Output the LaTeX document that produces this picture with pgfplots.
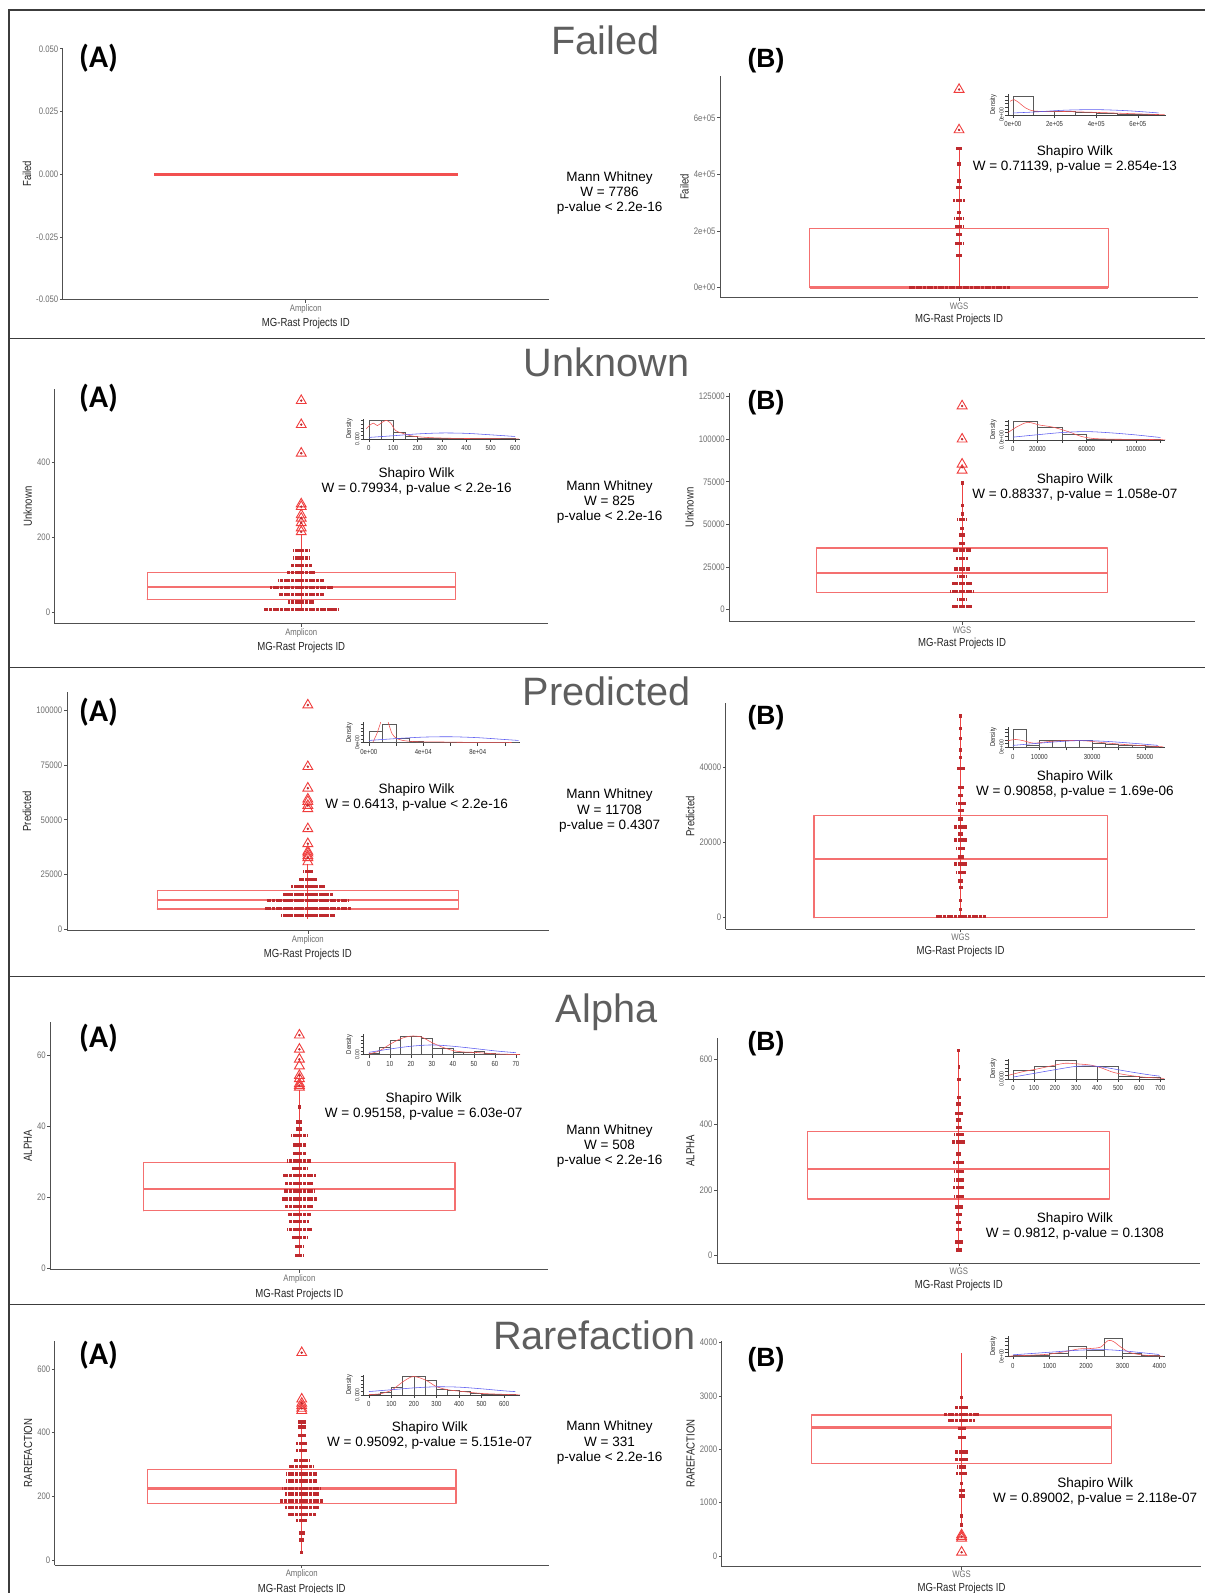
\documentclass[border=0pt]{standalone}
\usepackage{fontspec}
\setmainfont{Liberation Sans}
\newfontfamily\narrowfont[FakeStretch=0.82]{Liberation Sans}
\newfontfamily\calfont{Carlito}
\usepackage{pgfplots}
\pgfplotsset{compat=1.18}

\definecolor{boxred}{HTML}{F47070}
\definecolor{whiskred}{HTML}{EE4444}
\definecolor{dotred}{HTML}{BE2A2E}
\definecolor{outred}{HTML}{F03C3C}
\definecolor{axisgray}{HTML}{505050}
\definecolor{tickgray}{HTML}{6E6E6E}
\definecolor{titlegray}{HTML}{5E5E5E}
\definecolor{framegray}{HTML}{3C3C3C}
\definecolor{densred}{HTML}{F05050}
\definecolor{densblue}{HTML}{5A5AF0}

\newcommand\tickfont{\narrowfont\fontsize{9.3}{10}\selectfont}
\newcommand\labfont{\narrowfont\fontsize{11.5}{13}\selectfont}
\newcommand\insetfont{\narrowfont\fontsize{7.2}{8}\selectfont}
\newcommand\insetyfont{\narrowfont\fontsize{6}{7}\selectfont}
\newcommand\denfont{\narrowfont\fontsize{7}{8}\selectfont}
\newcommand\statfont{\fontsize{13.3}{15}\selectfont}
\newcommand\titlefont{\fontsize{39}{42}\selectfont}
\newcommand\pafont{\calfont\bfseries\fontsize{31}{33}\selectfont}
\newcommand\pbfont{\bfseries\fontsize{26}{28}\selectfont}

\pgfplotsset{
  mainax/.style={scale only axis, anchor=south west, clip=false, scaled ticks=false,
    axis x line=bottom, axis y line=left,
    axis line style={-, draw=axisgray, line width=1pt},
    xmin=0.4, xmax=1.6, xtick={1},
    tick align=outside, major tick length=3pt,
    tick style={draw=axisgray, line width=0.6pt},
    tick label style={font=\tickfont, text=tickgray, inner sep=1.5pt},
    label style={font=\labfont, text=black!85},
    xlabel={MG-Rast Projects ID}},
  inset/.style={scale only axis, anchor=south west, clip=true, scaled ticks=false,
    height=20pt, ymin=0, ymax=1.1,
    axis x line=bottom, axis y line=left,
    axis line style={-, draw=black!75, line width=0.5pt},
    tick align=outside, major tick length=3pt,
    tick style={draw=black!75, line width=0.45pt},
    xticklabel style={font=\insetfont, text=black!80, inner sep=1pt, yshift=-2.5pt},
    ytick={0,0.2,0.4,0.6,0.8,1.0},
    yticklabel style={font=\insetyfont, text=black!80, rotate=90, anchor=south, inner sep=1pt},
    ylabel={Density}, ylabel style={font=\denfont, text=black!85}, ylabel shift=-2pt},
  boxline/.style={draw=boxred, line width=1.2pt, line join=round, line cap=round, mark=none},
  medline/.style={draw=boxred, line width=2.2pt, mark=none},
  whisk/.style={draw=whiskred, line width=0.9pt, mark=none},
  outl/.style={only marks, mark=triangle, mark size=5.6pt, mark options={draw=outred, fill=none, line width=0.9pt}},
  outdot/.style={only marks, mark=*, mark size=1pt, mark options={draw=dotred, fill=dotred}},
  dotrow/.style={draw=none, mark=none, error bars/.cd, x dir=both, x explicit, error mark=none,
    error bar style={draw=dotred, line width=3.3pt, dash pattern=on 3pt off 0.6pt}},
  hist/.style={ybar interval, draw=black!65, fill=none, line width=0.5pt},
  dred/.style={smooth, draw=densred, line width=0.55pt, mark=none},
  dblue/.style={smooth, draw=densblue, line width=0.55pt, mark=none}
}

\begin{document}
\begin{tikzpicture}
\useasboundingbox (0pt,0pt) rectangle (1186pt,-1568pt);

% frame and row separators
\draw[framegray, line width=1.3pt] (9pt,-1568pt) -- (9pt,-10pt) -- (1186pt,-10pt);
\draw[framegray, line width=1.3pt] (9pt,-333pt) -- (1186pt,-333pt);
\draw[framegray, line width=1.3pt] (9pt,-657pt) -- (1186pt,-657pt);
\draw[framegray, line width=1.3pt] (9pt,-961pt) -- (1186pt,-961pt);
\draw[framegray, line width=1.3pt] (9pt,-1284pt) -- (1186pt,-1284pt);

% ================= Failed =================
\node[anchor=base, text=titlegray, font=\titlefont] at (596pt,-54pt) {Failed};
\node[font=\statfont, align=center] at (600pt,-190pt) {Mann Whitney\\W = 7786\\p-value < 2.2e-16};

\begin{axis}[mainax, at={(62pt,-295pt)}, width=478pt, height=248pt,
  ymin=-0.05, ymax=0.0504, ytick={-0.05,-0.025,0,0.025,0.05},
  yticklabels={-0.050,-0.025,0.000,0.025,0.050}, xticklabels={Amplicon}, ylabel={Failed}]
\addplot[medline, line width=2.6pt, draw=outred!90] coordinates {(0.625,0) (1.375,0)};
\end{axis}

\begin{axis}[mainax, at={(709pt,-293pt)}, width=470pt, height=218pt,
  ymin=-36000, ymax=747000, ytick={0,200000,400000,600000},
  yticklabels={0e+00,2e+05,4e+05,6e+05}, xticklabels={WGS}, ylabel={Failed}]
\addplot[boxline] coordinates {(0.625,0) (1.375,0) (1.375,208000) (0.625,208000) (0.625,0)};
\addplot[medline] coordinates {(0.625,0) (1.375,0)};
\addplot[whisk] coordinates {(1,0) (1,491000)};
\addplot[dotrow] coordinates {(1,0) +- (0.127,0) (1,114000) +- (0.008,0) (1,155000) +- (0.010,0)
  (1,188000) +- (0.008,0) (1,215000) +- (0.010,0) (1,243000) +- (0.012,0) (1,266000) +- (0.004,0)
  (1,307000) +- (0.016,0) (1,354000) +- (0.008,0) (1,376000) +- (0.004,0) (1,436000) +- (0.006,0)
  (1,491000) +- (0.008,0)};
\addplot[outl] coordinates {(1,557000) (1,700000)};
\addplot[outdot] coordinates {(1,557000) (1,700000)};
\end{axis}

\begin{axis}[inset, at={(992pt,-113pt)}, width=156pt, xmin=-24390, xmax=736585,
  xtick={0,200000,400000,600000}, xticklabels={0e+00,2e+05,4e+05,6e+05}, yticklabels={0e+00,,,,,}]
\addplot[hist] coordinates {(0,1.0) (100000,0.2) (200000,0.2) (300000,0.16) (400000,0.09) (500000,0.05) (600000,0.04) (700000,0)};
\addplot[dred] coordinates {(-13000,0.73) (5000,0.82) (30000,0.65) (60000,0.38) (106000,0.2) (240000,0.18) (400000,0.13) (600000,0.05) (730000,0)};
\addplot[dblue] coordinates {(0,0.1) (100000,0.15) (250000,0.25) (400000,0.28) (550000,0.22) (700000,0.1)};
\end{axis}
\node[font=\statfont, align=center] at (1058pt,-157pt) {Shapiro Wilk\\W = 0.71139, p-value = 2.854e-13};
\node[font=\pafont] at (97pt,-57pt) {(A)};
\node[font=\pbfont] at (754pt,-60pt) {(B)};

% ================= Unknown =================
\node[anchor=base, text=titlegray, font=\titlefont] at (597pt,-371pt) {Unknown};
\node[font=\statfont, align=center] at (600pt,-494pt) {Mann Whitney\\W = 825\\p-value < 2.2e-16};

\begin{axis}[mainax, at={(54pt,-614pt)}, width=485pt, height=231pt,
  ymin=-29.7, ymax=594.6, ytick={0,200,400}, yticklabels={0,200,400},
  xticklabels={Amplicon}, ylabel={Unknown}]
\addplot[boxline] coordinates {(0.625,35) (1.375,35) (1.375,106) (0.625,106) (0.625,35)};
\addplot[medline] coordinates {(0.625,68) (1.375,68)};
\addplot[whisk] coordinates {(1,8) (1,210)};
\addplot[dotrow] coordinates {(1,8) +- (0.091,0) (1,28) +- (0.032,0) (1,48) +- (0.054,0)
  (1,67) +- (0.077,0) (1,86) +- (0.056,0) (1,107) +- (0.035,0) (1,125) +- (0.026,0)
  (1,145) +- (0.019,0) (1,165) +- (0.019,0)};
\addplot[outl] coordinates {(1,215) (1,225) (1,239) (1,251) (1,260) (1,282) (1,289) (1,424) (1,500) (1,564)};
\addplot[outdot] coordinates {(1,215) (1,239) (1,251) (1,282) (1,424) (1,500) (1,564)};
\end{axis}

\begin{axis}[inset, at={(358pt,-432pt)}, width=154pt, xmin=-20.8, xmax=620.8,
  xtick={0,100,200,300,400,500,600}, xticklabels={0,100,200,300,400,500,600}, yticklabels={0.000,,,,,}]
\addplot[hist] coordinates {(0,1.0) (50,1.0) (100,0.36) (150,0.15) (200,0.05) (250,0.03) (300,0.02) (350,0.01) (400,0.01) (450,0.01) (500,0.01) (550,0.01) (600,0)};
\addplot[dred] coordinates {(-10,0.55) (5,0.75) (20,0.85) (35,0.72) (55,0.9) (72,1.0) (90,0.85) (110,0.45) (140,0.3) (180,0.15) (250,0.07) (350,0.03) (500,0.01) (615,0)};
\addplot[dblue] coordinates {(0,0.08) (100,0.17) (200,0.27) (300,0.32) (400,0.3) (500,0.22) (600,0.13)};
\end{axis}
\node[font=\statfont, align=center] at (410pt,-474pt) {Shapiro Wilk\\W = 0.79934, p-value < 2.2e-16};

\begin{axis}[mainax, at={(718pt,-612pt)}, width=458pt, height=225pt,
  ymin=-7177, ymax=127000, ytick={0,25000,50000,75000,100000,125000},
  yticklabels={0,25000,50000,75000,100000,125000}, xticklabels={WGS}, ylabel={Unknown}]
\addplot[boxline] coordinates {(0.625,10220) (1.375,10220) (1.375,36160) (0.625,36160) (0.625,10220)};
\addplot[medline] coordinates {(0.625,21420) (1.375,21420)};
\addplot[whisk] coordinates {(1,1770) (1,74280)};
\addplot[dotrow] coordinates {(1,1770) +- (0.026,0) (1,5900) +- (0.013,0) (1,10600) +- (0.031,0)
  (1,15130) +- (0.025,0) (1,19260) +- (0.013,0) (1,23780) +- (0.021,0) (1,30060) +- (0.016,0)
  (1,34980) +- (0.023,0) (1,38900) +- (0.009,0) (1,43800) +- (0.009,0) (1,47750) +- (0.006,0)
  (1,52860) +- (0.013,0) (1,56000) +- (0.004,0) (1,61100) +- (0.004,0) (1,74280) +- (0.004,0)};
\addplot[outl] coordinates {(1,81700) (1,85300) (1,100000) (1,119500)};
\addplot[outdot] coordinates {(1,83500) (1,100000) (1,119500)};
\end{axis}

\begin{axis}[inset, at={(992pt,-433pt)}, width=155pt, xmin=-4132, xmax=123967,
  xtick={0,20000,40000,60000,80000,100000,120000}, xticklabels={0,20000,,60000,,100000,}, yticklabels={0.0e+00,,,,,}]
\addplot[hist] coordinates {(0,1.0) (20000,0.67) (40000,0.31) (60000,0.04) (80000,0.02) (100000,0.02) (120000,0)};
\addplot[dred] coordinates {(-5000,0.35) (3000,0.7) (12000,0.95) (22000,0.8) (32000,0.7) (45000,0.45) (55000,0.2) (65000,0.08) (80000,0.04) (100000,0.03) (115000,0.02) (125000,0)};
\addplot[dblue] coordinates {(0,0.15) (20000,0.28) (40000,0.4) (60000,0.45) (80000,0.38) (100000,0.27) (120000,0.13)};
\end{axis}
\node[font=\statfont, align=center] at (1058pt,-480pt) {Shapiro Wilk\\W = 0.88337, p-value = 1.058e-07};
\node[font=\pafont] at (97pt,-392pt) {(A)};
\node[font=\pbfont] at (754pt,-396pt) {(B)};

% ================= Predicted =================
\node[anchor=base, text=titlegray, font=\titlefont] at (597pt,-694pt) {Predicted};
\node[font=\statfont, align=center] at (600pt,-798pt) {Mann Whitney\\W = 11708\\p-value = 0.4307};

\begin{axis}[mainax, at={(66pt,-916pt)}, width=474pt, height=235pt,
  ymin=-500, ymax=108300, ytick={0,25000,50000,75000,100000},
  yticklabels={0,25000,50000,75000,100000}, xticklabels={Amplicon}, ylabel={Predicted}]
\addplot[boxline] coordinates {(0.625,9400) (1.375,9400) (1.375,17900) (0.625,17900) (0.625,9400)};
\addplot[medline] coordinates {(0.625,13300) (1.375,13300)};
\addplot[whisk] coordinates {(1,4850) (1,30000)};
\addplot[dotrow] coordinates {(1,6360) +- (0.068,0) (1,9700) +- (0.109,0) (1,13180) +- (0.101,0)
  (1,16060) +- (0.063,0) (1,19540) +- (0.043,0) (1,22700) +- (0.023,0) (1,26400) +- (0.012,0)};
\addplot[outl] coordinates {(1,30800) (1,32700) (1,33600) (1,34800) (1,35600) (1,39100) (1,45900) (1,55000) (1,56500) (1,58300) (1,59400) (1,64400) (1,74200) (1,102300)};
\addplot[outdot] coordinates {(1,32700) (1,39100) (1,45900) (1,56500) (1,64400) (1,74200) (1,102300)};
\end{axis}

\begin{axis}[inset, at={(358pt,-731pt)}, width=154pt, xmin=-3731, xmax=111194,
  xtick={0,20000,40000,60000,80000,100000}, xticklabels={0e+00,,4e+04,,8e+04,}, yticklabels={0e+00,,,,,}]
\addplot[hist] coordinates {(0,0.6) (10000,1.0) (20000,0.23) (30000,0.08) (40000,0.04) (50000,0.03) (60000,0.03) (70000,0.02) (80000,0.01) (90000,0.01) (100000,0.01) (110000,0)};
\addplot[dred] coordinates {(3000,0.02) (6000,0.5) (8500,1.05) (10000,1.5) (12500,1.5) (14500,1.05) (17000,0.5) (20000,0.25) (25000,0.12) (35000,0.05) (50000,0.04) (70000,0.02) (105000,0.01)};
\addplot[dblue] coordinates {(0,0.12) (20000,0.22) (40000,0.3) (60000,0.32) (80000,0.27) (100000,0.17) (110000,0.12)};
\end{axis}
\node[font=\statfont, align=center] at (410pt,-785pt) {Shapiro Wilk\\W = 0.6413, p-value < 2.2e-16};

\begin{axis}[mainax, at={(714.5pt,-914.7pt)}, width=462pt, height=222.4pt,
  ymin=-3075, ymax=56920, ytick={0,20000,40000}, yticklabels={0,20000,40000},
  xticklabels={WGS}, ylabel={Predicted}]
\addplot[boxline] coordinates {(0.625,0) (1.375,0) (1.375,27080) (0.625,27080) (0.625,0)};
\addplot[medline] coordinates {(0.625,15580) (1.375,15580)};
\addplot[whisk] coordinates {(1,0) (1,53540)};
\addplot[dotrow] coordinates {(1,265) +- (0.065,0) (1,2210) +- (0.004,0) (1,4510) +- (0.004,0)
  (1,7970) +- (0.005,0) (1,9730) +- (0.007,0) (1,12040) +- (0.013,0) (1,14250) +- (0.016,0)
  (1,16100) +- (0.008,0) (1,18320) +- (0.011,0) (1,20620) +- (0.016,0) (1,22210) +- (0.006,0)
  (1,24070) +- (0.016,0) (1,26200) +- (0.006,0) (1,28400) +- (0.008,0) (1,30350) +- (0.013,0)
  (1,32480) +- (0.006,0) (1,34500) +- (0.008,0) (1,39560) +- (0.010,0) (1,42570) +- (0.004,0)
  (1,44500) +- (0.004,0) (1,47600) +- (0.004,0) (1,50270) +- (0.003,0) (1,53540) +- (0.004,0)};
\end{axis}

\begin{axis}[inset, at={(992pt,-735.5pt)}, width=155pt, xmin=-1923, xmax=57692,
  xtick={0,10000,20000,30000,40000,50000}, xticklabels={0,10000,,30000,,50000}, yticklabels={0e+00,,,,,}]
\addplot[hist] coordinates {(0,1.0) (5000,0.13) (10000,0.4) (15000,0.4) (20000,0.36) (25000,0.36) (30000,0.22) (35000,0.18) (40000,0.13) (45000,0.09) (50000,0.07) (55000,0)};
\addplot[dred] coordinates {(-2000,0.35) (1000,0.42) (4000,0.35) (8000,0.22) (13000,0.3) (20000,0.36) (27000,0.35) (34000,0.25) (42000,0.15) (50000,0.08) (57000,0.02)};
\addplot[dblue] coordinates {(0,0.1) (10000,0.22) (20000,0.33) (27000,0.36) (35000,0.32) (45000,0.22) (55000,0.1)};
\end{axis}
\node[font=\statfont, align=center] at (1058pt,-772pt) {Shapiro Wilk\\W = 0.90858, p-value = 1.69e-06};
\node[font=\pafont] at (97pt,-701pt) {(A)};
\node[font=\pbfont] at (754pt,-706pt) {(B)};

% ================= Alpha =================
\node[anchor=base, text=titlegray, font=\titlefont] at (597pt,-1006pt) {Alpha};
\node[font=\statfont, align=center] at (600pt,-1128pt) {Mann Whitney\\W = 508\\p-value < 2.2e-16};

\begin{axis}[mainax, at={(49.7pt,-1250pt)}, width=490pt, height=244.4pt,
  ymin=-0.57, ymax=69.4, ytick={0,20,40,60}, yticklabels={0,20,40,60},
  xticklabels={Amplicon}, ylabel={ALPHA}]
\addplot[boxline] coordinates {(0.625,16.1) (1.375,16.1) (1.375,29.7) (0.625,29.7) (0.625,16.1)};
\addplot[medline] coordinates {(0.625,22.3) (1.375,22.3)};
\addplot[whisk] coordinates {(1,3.5) (1,50)};
\addplot[dotrow] coordinates {(1,3.5) +- (0.010,0) (1,6.0) +- (0.010,0) (1,8.6) +- (0.018,0)
  (1,10.9) +- (0.031,0) (1,13.0) +- (0.024,0) (1,15.1) +- (0.028,0) (1,17.3) +- (0.034,0)
  (1,19.4) +- (0.044,0) (1,21.7) +- (0.037,0) (1,23.8) +- (0.034,0) (1,26.0) +- (0.040,0)
  (1,28.0) +- (0.018,0) (1,30.1) +- (0.029,0) (1,32.3) +- (0.015,0) (1,34.6) +- (0.015,0)
  (1,37.3) +- (0.020,0) (1,39.1) +- (0.008,0) (1,41.1) +- (0.008,0) (1,45.3) +- (0.004,0)};
\addplot[outl] coordinates {(1,50.9) (1,51.4) (1,51.9) (1,53.3) (1,54.2) (1,56.9) (1,58.8) (1,61.6) (1,65.6)};
\addplot[outdot] coordinates {(1,51.4) (1,54.2) (1,58.8) (1,61.6) (1,65.6)};
\end{axis}

\begin{axis}[inset, at={(358pt,-1038pt)}, width=154pt, xmin=-2.42, xmax=72,
  xtick={0,10,20,30,40,50,60,70}, xticklabels={0,10,20,30,40,50,60,70}, yticklabels={0.00,,,,,}]
\addplot[hist] coordinates {(0,0.05) (5,0.39) (10,0.77) (15,1.0) (20,1.0) (25,0.89) (30,0.36) (35,0.36) (40,0.13) (45,0.13) (50,0.16) (55,0.05) (60,0.04) (65,0.02) (70,0)};
\addplot[dred] coordinates {(0,0.03) (5,0.2) (10,0.55) (15,0.85) (20,1.0) (25,0.95) (30,0.65) (35,0.4) (40,0.22) (45,0.14) (50,0.12) (55,0.08) (62,0.03) (72,0)};
\addplot[dblue] coordinates {(0,0.12) (10,0.3) (20,0.45) (30,0.52) (40,0.45) (50,0.33) (60,0.2) (70,0.1)};
\end{axis}
\node[font=\statfont, align=center] at (417pt,-1089pt) {Shapiro Wilk\\W = 0.95158, p-value = 6.03e-07};

\begin{axis}[mainax, at={(706pt,-1243.4pt)}, width=475.5pt, height=221.5pt,
  ymin=-23.3, ymax=664.2, ytick={0,200,400,600}, yticklabels={0,200,400,600},
  xticklabels={WGS}, ylabel={ALPHA}]
\addplot[boxline] coordinates {(0.625,173) (1.375,173) (1.375,379) (0.625,379) (0.625,173)};
\addplot[medline] coordinates {(0.625,264) (1.375,264)};
\addplot[whisk] coordinates {(1,17) (1,626)};
\addplot[dotrow] coordinates {(1,17) +- (0.008,0) (1,42) +- (0.010,0) (1,80) +- (0.008,0)
  (1,102) +- (0.006,0) (1,126) +- (0.008,0) (1,148) +- (0.010,0) (1,181) +- (0.012,0)
  (1,209) +- (0.014,0) (1,231) +- (0.012,0) (1,256) +- (0.012,0) (1,285) +- (0.014,0)
  (1,310) +- (0.006,0) (1,347) +- (0.016,0) (1,370) +- (0.012,0) (1,392) +- (0.008,0)
  (1,414) +- (0.006,0) (1,435) +- (0.010,0) (1,463) +- (0.006,0) (1,483) +- (0.005,0)
  (1,539) +- (0.005,0) (1,576) +- (0.003,0) (1,626) +- (0.004,0)};
\end{axis}

\begin{axis}[inset, at={(992pt,-1062pt)}, width=155pt, xmin=-24.2, xmax=724.6,
  xtick={0,100,200,300,400,500,600,700}, xticklabels={0,100,200,300,400,500,600,700}, yticklabels={0.0000,,,,,}]
\addplot[hist] coordinates {(0,0.46) (100,0.68) (200,1.0) (300,0.71) (400,0.66) (500,0.14) (600,0.1) (700,0)};
\addplot[dred] coordinates {(-20,0.2) (50,0.4) (120,0.55) (200,0.75) (250,0.85) (300,0.82) (370,0.75) (420,0.6) (480,0.35) (550,0.2) (620,0.1) (720,0.03)};
\addplot[dblue] coordinates {(0,0.1) (100,0.3) (200,0.5) (300,0.68) (380,0.7) (450,0.6) (550,0.4) (650,0.22) (700,0.15)};
\end{axis}
\node[font=\statfont, align=center] at (1058pt,-1207pt) {Shapiro Wilk\\W = 0.9812, p-value = 0.1308};
\node[font=\pafont] at (97pt,-1022pt) {(A)};
\node[font=\pbfont] at (754pt,-1027pt) {(B)};

% ================= Rarefaction =================
\node[anchor=base, text=titlegray, font=\titlefont] at (585pt,-1328pt) {Rarefaction};
\node[font=\statfont, align=center] at (600pt,-1420pt) {Mann Whitney\\W = 331\\p-value < 2.2e-16};

\begin{axis}[mainax, at={(54.1pt,-1540.7pt)}, width=485.8pt, height=221.1pt,
  ymin=-16.9, ymax=688.8, ytick={0,200,400,600}, yticklabels={0,200,400,600},
  xticklabels={Amplicon}, ylabel={RAREFACTION}]
\addplot[boxline] coordinates {(0.625,178) (1.375,178) (1.375,283) (0.625,283) (0.625,178)};
\addplot[medline] coordinates {(0.625,224) (1.375,224)};
\addplot[whisk] coordinates {(1,23) (1,440)};
\addplot[dotrow] coordinates {(1,23) +- (0.004,0) (1,63) +- (0.006,0) (1,84) +- (0.008,0)
  (1,124) +- (0.013,0) (1,143) +- (0.035,0) (1,165) +- (0.041,0) (1,185) +- (0.053,0)
  (1,207) +- (0.041,0) (1,225) +- (0.048,0) (1,248) +- (0.038,0) (1,270) +- (0.038,0)
  (1,293) +- (0.030,0) (1,313) +- (0.019,0) (1,344) +- (0.013,0) (1,366) +- (0.013,0)
  (1,390) +- (0.009,0) (1,417) +- (0.009,0) (1,433) +- (0.009,0)};
\addplot[outl] coordinates {(1,469) (1,476) (1,484) (1,492) (1,505) (1,651)};
\addplot[outdot] coordinates {(1,476) (1,492) (1,651)};
\end{axis}

\begin{axis}[inset, at={(358pt,-1373pt)}, width=154pt, xmin=-22.5, xmax=671.2,
  xtick={0,100,200,300,400,500,600}, xticklabels={0,100,200,300,400,500,600}, yticklabels={0.000,,,,,}]
\addplot[hist] coordinates {(0,0.05) (50,0.12) (100,0.41) (150,1.0) (200,1.0) (250,0.82) (300,0.32) (350,0.27) (400,0.18) (450,0.09) (500,0.05) (550,0.04) (600,0.03) (650,0)};
\addplot[dred] coordinates {(0,0.02) (50,0.06) (100,0.25) (150,0.7) (190,0.98) (220,0.95) (260,0.75) (300,0.45) (350,0.28) (420,0.18) (500,0.08) (600,0.03) (680,0)};
\addplot[dblue] coordinates {(0,0.18) (100,0.28) (200,0.38) (300,0.44) (400,0.42) (500,0.33) (600,0.22) (650,0.18)};
\end{axis}
\node[font=\statfont, align=center] at (423pt,-1413pt) {Shapiro Wilk\\W = 0.95092, p-value = 5.151e-07};

\begin{axis}[mainax, at={(710.6pt,-1542pt)}, width=471.8pt, height=222.4pt,
  ymin=-200, ymax=4036, ytick={0,1000,2000,3000,4000}, yticklabels={0,1000,2000,3000,4000},
  xticklabels={WGS}, ylabel={RAREFACTION}]
\addplot[boxline] coordinates {(0.625,1738) (1.375,1738) (1.375,2644) (0.625,2644) (0.625,1738)};
\addplot[medline] coordinates {(0.625,2406) (1.375,2406)};
\addplot[whisk] coordinates {(1,581) (1,3812)};
\addplot[dotrow] coordinates {(1,581) +- (0.004,0) (1,750) +- (0.004,0) (1,1125) +- (0.008,0)
  (1,1225) +- (0.008,0) (1,1362) +- (0.004,0) (1,1550) +- (0.014,0) (1,1670) +- (0.012,0)
  (1,1812) +- (0.018,0) (1,1950) +- (0.018,0) (1,2219) +- (0.010,0) (1,2388) +- (0.010,0)
  (1,2544) +- (0.033,0) (1,2656) +- (0.044,0) (1,2788) +- (0.018,0) (1,2969) +- (0.003,0)};
\addplot[outl] coordinates {(1,69) (1,331) (1,363) (1,394)};
\addplot[outdot] coordinates {(1,69) (1,363)};
\end{axis}

\begin{axis}[inset, at={(992pt,-1335pt)}, width=155pt, xmin=-139, xmax=4167,
  xtick={0,1000,2000,3000,4000}, xticklabels={0,1000,2000,3000,4000}, yticklabels={0e+00,,,,,}]
\addplot[hist] coordinates {(0,0.04) (500,0.07) (1000,0.14) (1500,0.56) (2000,0.35) (2500,1.0) (3000,0.14) (3500,0.07) (4000,0)};
\addplot[dred] coordinates {(-100,0.01) (500,0.06) (1000,0.12) (1500,0.28) (1800,0.4) (2100,0.42) (2400,0.5) (2600,0.85) (2750,0.8) (2950,0.5) (3200,0.2) (3600,0.06) (4100,0.01)};
\addplot[dblue] coordinates {(0,0.08) (1000,0.22) (1800,0.33) (2500,0.36) (3000,0.3) (3500,0.2) (4000,0.1)};
\end{axis}
\node[font=\statfont, align=center] at (1078pt,-1468pt) {Shapiro Wilk\\W = 0.89002, p-value = 2.118e-07};
\node[font=\pafont] at (97pt,-1334pt) {(A)};
\node[font=\pbfont] at (754pt,-1338pt) {(B)};

\end{tikzpicture}
\end{document}
